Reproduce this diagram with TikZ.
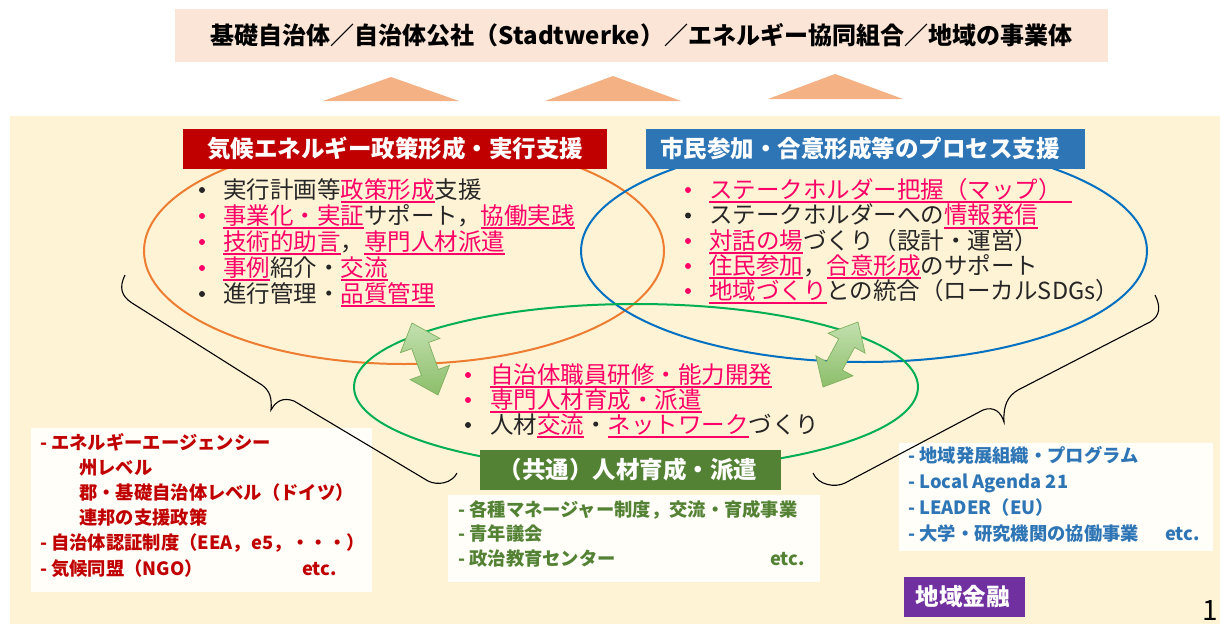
\documentclass[tikz,border=0pt]{standalone}
\usepackage{fontspec}
\setmainfont{Noto Sans CJK JP}
\definecolor{pk}{HTML}{FF0066}
\definecolor{tx}{HTML}{262626}
\definecolor{topc}{HTML}{FBE5D6}
\definecolor{tric}{HTML}{F4B183}
\definecolor{cream}{HTML}{FFF3D6}
\definecolor{hred}{HTML}{C00000}
\definecolor{hblue}{HTML}{2E75B6}
\definecolor{hgreen}{HTML}{548235}
\definecolor{hpurp}{HTML}{7030A0}
\definecolor{orng}{HTML}{ED7D31}
\definecolor{blu}{HTML}{0070C0}
\definecolor{grn}{HTML}{00B050}
\definecolor{wbox}{HTML}{FFFEF8}
\definecolor{arrA}{HTML}{C3E0AF}
\definecolor{arrB}{HTML}{8CBE6A}
\definecolor{arrL}{HTML}{7FAF5F}
\newcommand{\pkul}[1]{{\color{pk}\setbox0=\hbox{#1}\rlap{\rule[-5pt]{\wd0}{1.6pt}}\box0}}
\begin{document}
\begin{tikzpicture}[x=1pt,y=-1pt,
  hbox/.style={inner sep=0pt, minimum height=40pt},
  htxt/.style={inner sep=0pt, text=white, font=\fontsize{23.5}{26}\selectfont\bfseries},
  li/.style={anchor=base west, inner sep=0pt, text=tx, font=\fontsize{23.5}{26}\selectfont},
  bl/.style={circle, inner sep=0pt, minimum size=6pt},
  wb/.style={fill=wbox, inner sep=0pt},
  bt/.style={anchor=base west, inner sep=0pt, font=\fontsize{18.3}{20}\selectfont\bfseries},
  ell/.style={line width=2pt},
  brc/.style={line width=1.1pt, draw=black},
  arr/.style={draw=arrL, line width=0.7pt, top color=arrA, bottom color=arrB}]
\useasboundingbox (0,0) rectangle (1220,626);
\fill[white] (0,0) rectangle (1220,626);
% top box
\node[fill=topc, minimum width=933pt, minimum height=53pt, inner sep=0pt,
  font=\fontsize{24}{26}\selectfont\bfseries, text=black] (top) at (641.5,35.5)
  {基礎自治体／自治体公社（Stadtwerke）／エネルギー協同組合／地域の事業体};
% triangles
\fill[tric] (323,101) -- (391,77) -- (459,101) -- cycle;
\fill[tric] (545,101) -- (613,76) -- (681,101) -- cycle;
\fill[tric] (768,99) -- (835,74) -- (903,99) -- cycle;
% cream background
\fill[cream] (10,116) rectangle (1220,624);
% ellipses
\draw[ell, draw=orng] (404,251) ellipse [x radius=260pt, y radius=113pt];
\draw[ell, draw=blu] (864,251) ellipse [x radius=283pt, y radius=111pt];
\draw[ell, draw=grn] (636,387) ellipse [x radius=282pt, y radius=83pt];
% headers
\node[hbox, fill=hred, minimum width=424pt] (hr) at (395,149) {};
\node[htxt] (hrt) at (395,149) {気候エネルギー政策形成・実行支援};
\node[hbox, fill=hblue, minimum width=439pt] (hb) at (865.5,149) {};
\node[htxt] (hbt) at (860,149) {市民参加・合意形成等のプロセス支援};
\node[hbox, fill=hgreen, minimum width=301pt] (hg) at (630.5,470) {};
\node[htxt] (hgt) at (628,470) {（共通）人材育成・派遣};
\node[hbox, fill=hpurp, minimum width=121pt] (hp) at (964.5,597) {};
\node[htxt] (hpt) at (962.5,597) {地域金融};
% orange list
\node[bl, fill=tx] (ob1) at (202,190) {};
\node[bl, fill=pk] (ob2) at (202,216) {};
\node[bl, fill=pk] (ob3) at (202,242) {};
\node[bl, fill=pk] (ob4) at (202,268) {};
\node[bl, fill=tx] (ob5) at (202,294) {};
\node[li] (o1) at (223,198) {実行計画等\pkul{政策形成}支援};
\node[li] (o2) at (223,224) {\pkul{事業化・実証}サポート，\pkul{協働実践}};
\node[li] (o3) at (223,250) {\pkul{技術的助言}，\pkul{専門人材派遣}};
\node[li] (o4) at (223,276) {\pkul{事例}紹介・\pkul{交流}};
\node[li] (o5) at (223,302) {進行管理・\pkul{品質管理}};
% blue list
\node[bl, fill=pk] (bb1) at (688,190) {};
\node[bl, fill=tx] (bb2) at (688,215.5) {};
\node[bl, fill=pk] (bb3) at (688,241) {};
\node[bl, fill=pk] (bb4) at (688,266) {};
\node[bl, fill=pk] (bb5) at (688,291) {};
\node[li] (b1) at (709,198) {\pkul{ステークホルダー把握（マップ）\hspace{10pt}}};
\node[li] (b2) at (709,223.5) {ステークホルダーへの\pkul{情報発信}};
\node[li] (b3) at (709,249) {\pkul{対話の場}づくり（設計・運営）};
\node[li] (b4) at (709,274) {\pkul{住民参加}，\pkul{合意形成}のサポート};
\node[li] (b5) at (709,299) {\pkul{地域づくり}との統合（ローカルSDGs）};
% green list
\node[bl, fill=pk] (gb1) at (468,375) {};
\node[bl, fill=pk] (gb2) at (468,400) {};
\node[bl, fill=tx] (gb3) at (468,425) {};
\node[li] (g1) at (490,383) {\pkul{自治体職員研修・能力開発}};
\node[li] (g2) at (490,408) {\pkul{専門人材育成・派遣}};
\node[li] (g3) at (490,433) {人材\pkul{交流}・\pkul{ネットワーク}づくり};
% double arrows
\path[arr] (438,395) -- (449.6,365.3) -- (438.3,369.4) -- (428.6,342.5) -- (439.9,338.4)
  -- (412,323) -- (400.4,352.7) -- (411.7,348.6) -- (421.4,375.5) -- (410.1,379.6) -- cycle;
\path[arr] (823,387) -- (852.9,375.8) -- (842.3,370.1) -- (854.6,347.4) -- (865.1,353.1)
  -- (858,322) -- (828.1,333.2) -- (838.7,338.9) -- (826.5,361.6) -- (815.9,355.9) -- cycle;
% white boxes
\node[wb, minimum width=341pt, minimum height=164pt] (lbox) at (201.5,510) {};
\node[wb, minimum width=372pt, minimum height=87pt] (gbox) at (634,538.5) {};
\node[wb, minimum width=314pt, minimum height=108pt] (rbox) at (1056,497) {};
% left box text
\begin{scope}[every node/.style={bt, text=hred}]
\node (l1) at (40,449) {- エネルギーエージェンシー};
\node (l2) at (79,474) {州レベル};
\node (l3) at (79,499) {郡・基礎自治体レベル（ドイツ）};
\node (l4) at (79,524) {連邦の支援政策};
\node (l5) at (40,549) {- 自治体認証制度（EEA，e5，・・・）};
\node (l6) at (40,575) {- 気候同盟（NGO）};
\node (l7) at (302,575) {etc.};
\end{scope}
% green box text
\begin{scope}[every node/.style={bt, text=hgreen}]
\node (m1) at (458,516) {- 各種マネージャー制度，交流・育成事業};
\node (m2) at (458,540.5) {- 青年議会};
\node (m3) at (458,565) {- 政治教育センター};
\node (m4) at (770,565) {etc.};
\end{scope}
% right box text
\begin{scope}[every node/.style={bt, text=hblue}]
\node (r1) at (908,462) {- 地域発展組織・プログラム};
\node (r2) at (908,488.5) {- Local Agenda 21};
\node (r3) at (908,514) {- LEADER（EU）};
\node (r4) at (908,540) {- 大学・研究機関の協働事業};
\node (r5) at (1165,540) {etc.};
\end{scope}
% braces
\draw[brc] (125,275) .. controls (119,287) and (121,296) .. (132,303) -- (262,385)
  .. controls (270,391) and (272,398) .. (271,410)
  .. controls (276,401) and (283,397) .. (294,401) -- (428,481)
  .. controls (438,486) and (452,483) .. (457,473);
\draw[brc] (1155,295) .. controls (1161,307) and (1160,316) .. (1150,322) -- (1018,390)
  .. controls (1008,396) and (1003,405) .. (1004,422)
  .. controls (1001,412) and (994,406) .. (983,410) -- (845,483)
  .. controls (835,488) and (818,485) .. (813,473);
% page number
\node[anchor=base west, inner sep=0pt, font=\fontsize{28}{30}\selectfont, text=black] (pn) at (1202,620) {1};
\end{tikzpicture}
\end{document}
